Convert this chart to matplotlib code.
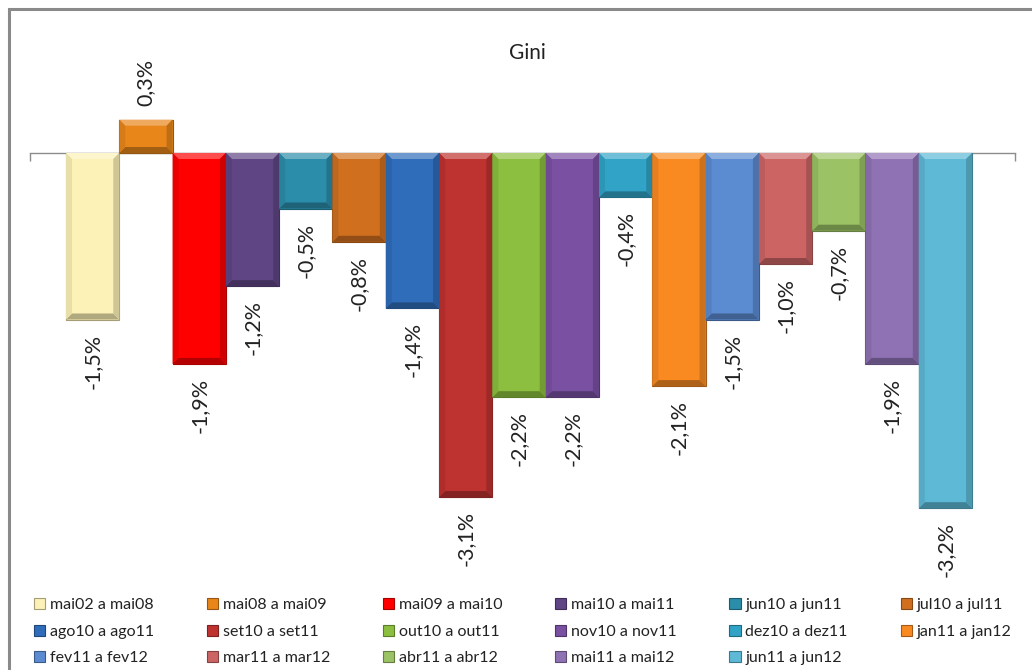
from __future__ import annotations

import matplotlib

matplotlib.use("Agg")
import matplotlib.pyplot as plt
import numpy as np
from matplotlib.colors import to_rgb
from matplotlib.patches import Polygon, Rectangle

# --- data ---
periods = [
    "mai02 a mai08", "mai08 a mai09", "mai09 a mai10", "mai10 a mai11",
    "jun10 a jun11", "jul10 a jul11", "ago10 a ago11", "set10 a set11",
    "out10 a out11", "nov10 a nov11", "dez10 a dez11", "jan11 a jan12",
    "fev11 a fev12", "mar11 a mar12", "abr11 a abr12", "mai11 a mai12",
    "jun11 a jun12",
]
gini_change = [
    -1.5, 0.3, -1.9, -1.2, -0.5, -0.8, -1.4, -3.1, -2.2,
    -2.2, -0.4, -2.1, -1.5, -1.0, -0.7, -1.9, -3.2,
]
bar_colors = [
    "#FCF1B6", "#E8861A", "#FF0000", "#5F4584", "#2B8DAA", "#D0701F",
    "#2F6DBA", "#BE3230", "#8CBF3F", "#7A50A2", "#30A3C6", "#F98A22",
    "#5B8BD0", "#CC6464", "#9BC264", "#8F72B4", "#5DB9D6",
]

W, H = 1032, 670
plt.rcParams["font.family"] = ["Lato", "DejaVu Sans"]


def shade(color, amount):
    # amount > 0 mixes with white, < 0 with black
    rgb = np.array(to_rgb(color))
    if amount >= 0:
        return tuple(rgb + (1 - rgb) * amount)
    return tuple(rgb * (1 + amount))


fig = plt.figure(figsize=(W / 100, H / 100), dpi=100)
fig.patch.set_facecolor("white")

# chart area border (only top/left visible in the crop)
fig.patches.append(
    Rectangle((9 / W, -0.2), 1.3, 1.2 - 9 / H, transform=fig.transFigure,
              fill=False, edgecolor="#8a8a8a", linewidth=2.2)
)

ax_left, ax_right = 30, 1015
ax_top, ax_bot = 75.3, 552.6
ax = fig.add_axes([ax_left / W, 1 - ax_bot / H,
                   (ax_right - ax_left) / W, (ax_bot - ax_top) / H])
ax.set_xlim(-1.175, 17.305)
ax.set_ylim(-3.6, 0.7)
ax.set_facecolor("none")

x = np.arange(len(gini_change))
bars = ax.bar(x, gini_change, width=1.0, color=bar_colors,
              edgecolor=[shade(c, -0.35) for c in bar_colors], linewidth=0.8,
              zorder=2)

# simple bevel look like the Excel bars
fig.canvas.draw()
p0 = ax.transData.transform((0, 0))
p1 = ax.transData.transform((1, 1))
bx = 6.0 / (p1[0] - p0[0])
by = 6.0 / (p1[1] - p0[1])
for rect, c in zip(bars, bar_colors):
    x0 = rect.get_x()
    x1 = x0 + rect.get_width()
    y_lo = min(rect.get_y(), rect.get_y() + rect.get_height())
    y_hi = max(rect.get_y(), rect.get_y() + rect.get_height())
    top = [(x0, y_hi), (x1, y_hi), (x1 - bx, y_hi - by), (x0 + bx, y_hi - by)]
    bot = [(x0, y_lo), (x1, y_lo), (x1 - bx, y_lo + by), (x0 + bx, y_lo + by)]
    lft = [(x0, y_lo), (x0, y_hi), (x0 + bx, y_hi - by), (x0 + bx, y_lo + by)]
    rgt = [(x1, y_lo), (x1, y_hi), (x1 - bx, y_hi - by), (x1 - bx, y_lo + by)]
    for pts, amt in ((top, 0.3), (bot, -0.3), (lft, -0.08), (rgt, -0.18)):
        ax.add_patch(Polygon(pts, closed=True, facecolor=shade(c, amt),
                             edgecolor="none", zorder=3))

# value labels, rotated
for xi, v in zip(x, gini_change):
    txt = f"{v:.1f}%".replace(".", ",")
    off = 10 if v > 0 else -10
    ax.annotate(txt, (xi, v), xytext=(0, off), textcoords="offset points",
                rotation=90, ha="center", va="bottom" if v > 0 else "top",
                fontsize=15.5, color="#222222", annotation_clip=False)

# category axis at zero
for side in ("top", "right", "left"):
    ax.spines[side].set_visible(False)
ax.spines["bottom"].set_position(("data", 0))
ax.spines["bottom"].set_color("#8c8c8c")
ax.spines["bottom"].set_linewidth(1.0)
ax.spines["bottom"].set_zorder(1)
ax.set_xticks([-1.175, 17.305])
ax.set_xticklabels([])
ax.tick_params(axis="x", direction="out", length=6, color="#8c8c8c", width=1.0)
ax.set_yticks([])

fig.text(527 / W, 1 - 53 / H, "Gini", ha="center", va="center",
         fontsize=15, color="#222222")

# legend: Excel fills row by row, matplotlib column by column
ncol = 6
nrow = int(np.ceil(len(periods) / ncol))
handles = [Rectangle((0, 0), 1, 1, facecolor=c,
                     edgecolor=shade(c, -0.35), linewidth=0.8)
           for c in bar_colors]
order = [r * ncol + c for c in range(ncol) for r in range(nrow)
         if r * ncol + c < len(periods)]
fig.legend([handles[i] for i in order], [periods[i] for i in order],
           loc="upper left", bbox_to_anchor=(34 / W, 1 - 598 / H),
           ncol=ncol, frameon=False, fontsize=11.5, borderaxespad=0,
           borderpad=0, handlelength=0.7, handleheight=0.7,
           handletextpad=0.3, labelspacing=0.78, columnspacing=3.3,
           labelcolor="#222222")

fig.savefig("out.png", dpi=100, facecolor="white")
